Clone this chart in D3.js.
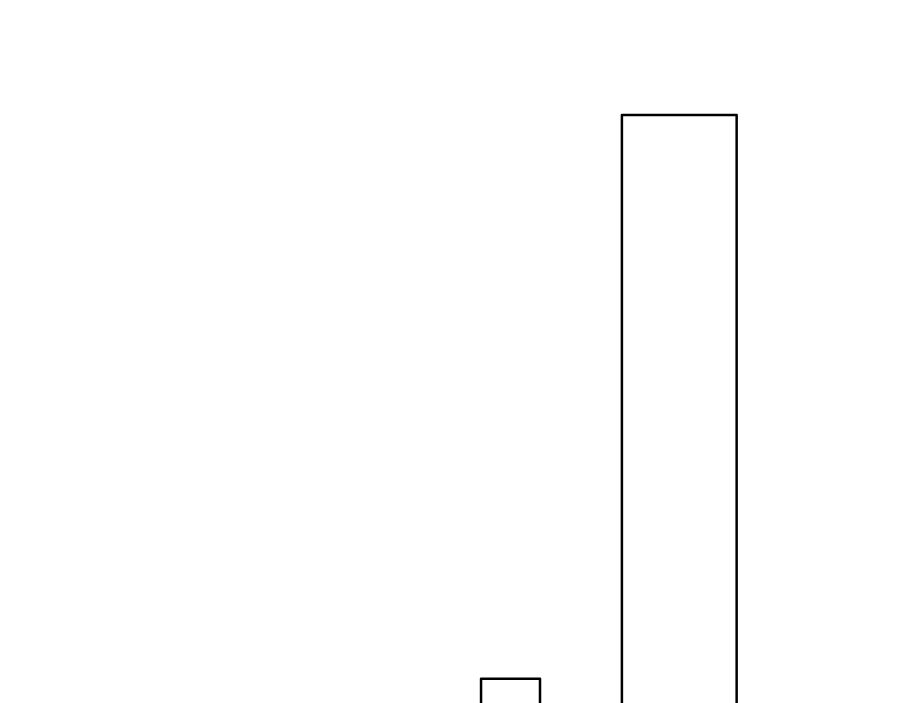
<!DOCTYPE html>
<html>
<head>
<meta charset="utf-8">
<script src="https://cdn.jsdelivr.net/npm/d3@7"></script>
<style>
  html, body { margin: 0; padding: 0; background: #fff; overflow: hidden; }
</style>
</head>
<body>
<div id="chart"></div>
<script>
  // Bins: start, end, value
  const binStart = [53.45, 69.1];
  const binEnd = [60.0, 81.85];
  const values = [9.8, 100];

  const width = 900, height = 703;

  const svg = d3.select("#chart")
    .append("svg")
    .attr("width", width)
    .attr("height", height);

  // Scales
  const xScale = d3.scaleLinear().domain([0, 100]).range([0, width]);
  const yScale = d3.scaleLinear().domain([0, 100]).range([740, 115]);

  const bins = values.map((v, i) => ({ x0: binStart[i], x1: binEnd[i], v: v }));

  // Bars
  svg.selectAll("rect")
    .data(bins)
    .enter()
    .append("rect")
    .attr("x", d => xScale(d.x0))
    .attr("y", d => yScale(d.v))
    .attr("width", d => xScale(d.x1) - xScale(d.x0))
    .attr("height", d => yScale(0) - yScale(d.v))
    .attr("fill", "white")
    .attr("stroke", "black")
    .attr("stroke-width", 2.5)
    .attr("stroke-linejoin", "round");
</script>
</body>
</html>
